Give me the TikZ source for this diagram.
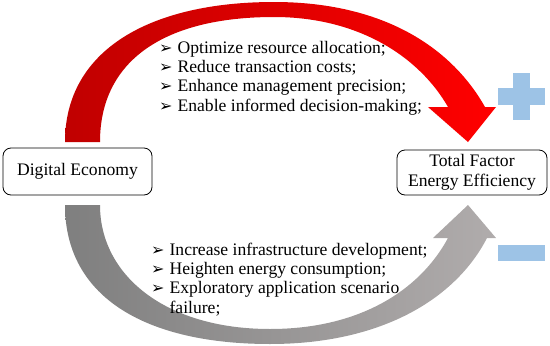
\documentclass[tikz,border=0pt]{standalone}
\usepackage{fontspec}
\setmainfont{Liberation Serif}
\newfontfamily\dejavu{DejaVu Sans}
\definecolor{darkred}{HTML}{C00000}
\definecolor{brightred}{HTML}{FF0000}
\definecolor{darkgray2}{HTML}{7F7F7F}
\definecolor{lightgray2}{HTML}{B0ACAC}
\definecolor{signblue}{HTML}{9DC3E6}
\newcommand{\bul}{{\dejavu\fontsize{16}{16}\selectfont ➢}}
\begin{document}
\begin{tikzpicture}[x=1pt,y=-1pt,
  box/.style={draw=black, line width=0.8pt, rounded corners=8pt, fill=white,
    align=center, inner sep=0pt, font=\fontsize{17.6}{20}\selectfont},
  listtext/.style={inner sep=0pt, font=\fontsize{17.6}{19.4}\selectfont, align=left},
  sign/.style={fill=signblue, draw=none}]
\useasboundingbox (0,0) rectangle (550,346);

% boxes
\node[box, minimum width=149pt, minimum height=47pt] (de) at (77.5,171.5) {Digital Economy};
\node[box, minimum width=150pt, minimum height=45pt] (tfee) at (472,172.5) {Total Factor\\Energy Efficiency};

% red (positive) arrow
\shade[left color=darkred, right color=brightred]
  (65,142) .. controls (65,50) and (150,2) .. (274,2)
  .. controls (380,2) and (450,45) .. (485,107)
  -- (496,107) -- (468,142) -- (428,107) -- (448,107)
  .. controls (420,58) and (360,17) .. (274,17)
  .. controls (165,17) and (100,60) .. (100,142) -- cycle;

% gray (negative) arrow
\shade[left color=darkgray2, right color=lightgray2]
  (65,205) .. controls (65,300) and (150,344) .. (270,344)
  .. controls (380,344) and (455,300) .. (487,238)
  -- (496,238) -- (468,205) -- (433,238) -- (448,238)
  .. controls (420,290) and (360,329) .. (270,329)
  .. controls (165,329) and (100,275) .. (100,205) -- cycle;

% positive effects
\node[listtext, anchor=base west] (pos) at (159,53) {%
  \begin{tabular}[t]{@{}l@{\hspace{5pt}}l@{}}
  \bul & Optimize resource allocation;\\
  \bul & Reduce transaction costs;\\
  \bul & Enhance management precision;\\
  \bul & Enable informed decision-making;
  \end{tabular}};

% negative effects
\node[listtext, anchor=base west] (neg) at (151,255) {%
  \begin{tabular}[t]{@{}l@{\hspace{5pt}}l@{}}
  \bul & Increase infrastructure development;\\
  \bul & Heighten energy consumption;\\
  \bul & Exploratory application scenario\\
       & failure;
  \end{tabular}};

% plus sign
\fill[sign] (513,73) rectangle (530,120);
\fill[sign] (498,88) rectangle (545,105);
% minus sign
\fill[sign] (498,245) rectangle (545,261);
\end{tikzpicture}
\end{document}
